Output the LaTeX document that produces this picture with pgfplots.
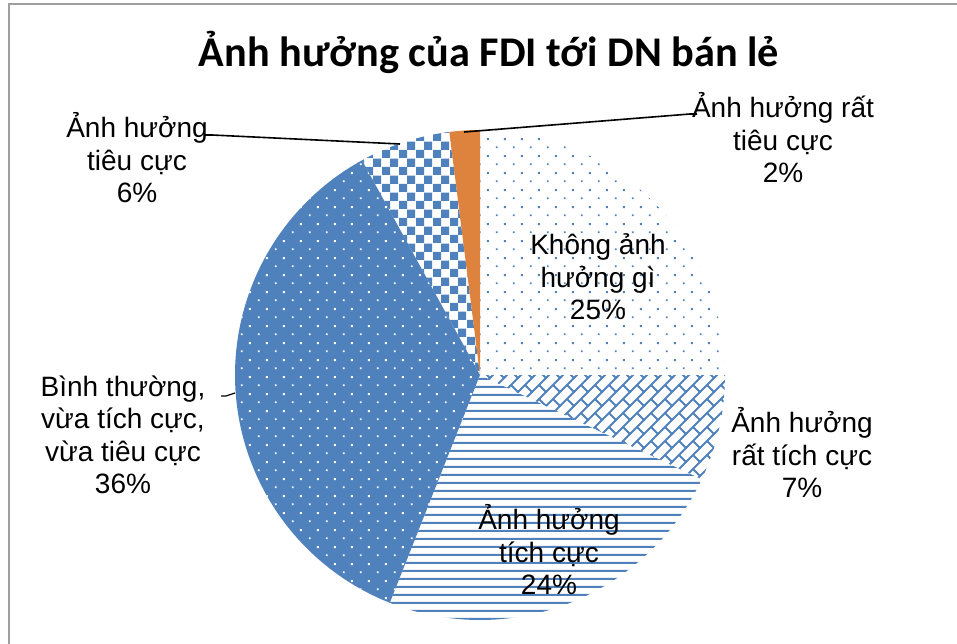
\documentclass[border=0pt]{standalone}
\usepackage{pgfplots}
\pgfplotsset{compat=1.18}
\usepackage{fontspec}
\setmainfont{Liberation Sans}
\newfontfamily\titlefont{Carlito}
\usetikzlibrary{patterns}
\definecolor{blueA}{RGB}{79,129,189}
\definecolor{orangeA}{RGB}{222,131,62}

\pgfdeclarepatternformonly{stagdots}{\pgfqpoint{0bp}{0bp}}{\pgfqpoint{17bp}{17bp}}{\pgfqpoint{17bp}{17bp}}{%
  \pgfpathrectangle{\pgfqpoint{3bp}{3bp}}{\pgfqpoint{2bp}{2bp}}%
  \pgfpathrectangle{\pgfqpoint{11.5bp}{11.5bp}}{\pgfqpoint{2bp}{2bp}}%
  \pgfusepath{fill}}
\pgfdeclarepatternformonly{hlinesA}{\pgfqpoint{0bp}{0bp}}{\pgfqpoint{8.35bp}{8.35bp}}{\pgfqpoint{8.35bp}{8.35bp}}{%
  \pgfpathrectangle{\pgfqpoint{0bp}{0bp}}{\pgfqpoint{8.35bp}{2.2bp}}%
  \pgfusepath{fill}}
\pgfdeclarepatternformonly{checkA}{\pgfqpoint{0bp}{0bp}}{\pgfqpoint{16.6bp}{16.6bp}}{\pgfqpoint{16.6bp}{16.6bp}}{%
  \pgfpathrectangle{\pgfqpoint{0bp}{0bp}}{\pgfqpoint{8.3bp}{8.3bp}}%
  \pgfpathrectangle{\pgfqpoint{8.3bp}{8.3bp}}{\pgfqpoint{8.3bp}{8.3bp}}%
  \pgfusepath{fill}}
\pgfdeclarepatternformonly{brickA}{\pgfqpoint{-1bp}{-1bp}}{\pgfqpoint{15bp}{15bp}}{\pgfqpoint{14bp}{14bp}}{%
  \pgfsetlinewidth{1.8bp}%
  \pgfpathmoveto{\pgfqpoint{-1bp}{-1bp}}\pgfpathlineto{\pgfqpoint{15bp}{15bp}}%
  \pgfpathmoveto{\pgfqpoint{7bp}{7bp}}\pgfpathlineto{\pgfqpoint{14bp}{0bp}}%
  \pgfusepath{stroke}}

% percentages, clockwise from 12 o'clock
\def\vA{25}% Khong anh huong gi
\def\vB{7}%  Rat tich cuc
\def\vC{24}% Tich cuc
\def\vD{36}% Binh thuong
\def\vE{6}%  Tieu cuc
\def\vF{2}%  Rat tieu cuc
\pgfmathsetmacro\tO{90}
\pgfmathsetmacro\tA{\tO-3.6*\vA}
\pgfmathsetmacro\tB{\tA-3.6*\vB}
\pgfmathsetmacro\tC{\tB-3.6*\vC}
\pgfmathsetmacro\tD{\tC-3.6*\vD}
\pgfmathsetmacro\tE{\tD-3.6*\vE}
\pgfmathsetmacro\tF{\tE-3.6*\vF}
\def\cx{480}\def\cy{375}\def\rr{245}

\begin{document}
\begin{tikzpicture}
\begin{axis}[hide axis, scale only axis, width=957bp, height=644bp,
  xmin=0, xmax=957, ymin=0, ymax=644, y dir=reverse, clip=false]
% frame
\addplot[draw=gray!75, line width=2bp] coordinates {(9,644) (9,4) (957,4)};
% slices
\addplot[draw=none, pattern=stagdots, pattern color=blueA, domain=\tA:\tO, samples=120]
  ({\cx+\rr*cos(x)},{\cy-\rr*sin(x)}) -- (axis cs:\cx,\cy) -- cycle;
\addplot[draw=none, pattern=brickA, pattern color=blueA, domain=\tB:\tA, samples=60]
  ({\cx+\rr*cos(x)},{\cy-\rr*sin(x)}) -- (axis cs:\cx,\cy) -- cycle;
\addplot[draw=none, pattern=hlinesA, pattern color=blueA, domain=\tC:\tB, samples=120]
  ({\cx+\rr*cos(x)},{\cy-\rr*sin(x)}) -- (axis cs:\cx,\cy) -- cycle;
\addplot[draw=none, fill=blueA, postaction={pattern=stagdots, pattern color=white}, domain=\tD:\tC, samples=150]
  ({\cx+\rr*cos(x)},{\cy-\rr*sin(x)}) -- (axis cs:\cx,\cy) -- cycle;
\addplot[draw=none, pattern=checkA, pattern color=blueA, domain=\tE:\tD, samples=60]
  ({\cx+\rr*cos(x)},{\cy-\rr*sin(x)}) -- (axis cs:\cx,\cy) -- cycle;
\addplot[draw=none, fill=orangeA, domain=\tF:\tE, samples=30]
  ({\cx+\rr*cos(x)},{\cy-\rr*sin(x)}) -- (axis cs:\cx,\cy) -- cycle;
% leader lines
\addplot[black, line width=1.6bp] coordinates {(464,132) (690,114) (697,114)};
\addplot[black, line width=1.6bp] coordinates {(204,135) (212,135) (400,144)};
\addplot[black, line width=1.2bp] coordinates {(221,396) (226,396) (235,393)};
% title
\node[font=\titlefont\bfseries\fontsize{42.3bp}{50bp}\selectfont, anchor=base] at (axis cs:489,67) {Ảnh hưởng của FDI tới DN bán lẻ};
% labels
\begin{scope}[every node/.style={align=center, font=\fontsize{28bp}{32.5bp}\selectfont}]
\node at (axis cs:783,138) {Ảnh hưởng rất\\tiêu cực\\2\%};
\node at (axis cs:137,158) {Ảnh hưởng\\tiêu cực\\6\%};
\node at (axis cs:598,277) {Không ảnh\\hưởng gì\\25\%};
\node at (axis cs:802,453) {Ảnh hưởng\\rất tích cực\\7\%};
\node at (axis cs:549,550) {Ảnh hưởng\\tích cực\\24\%};
\node at (axis cs:123,435) {Bình thường,\\vừa tích cực,\\vừa tiêu cực\\36\%};
\end{scope}
\end{axis}
\pgfresetboundingbox
\path (current axis.south west) rectangle (current axis.north east);
\end{tikzpicture}
\end{document}
